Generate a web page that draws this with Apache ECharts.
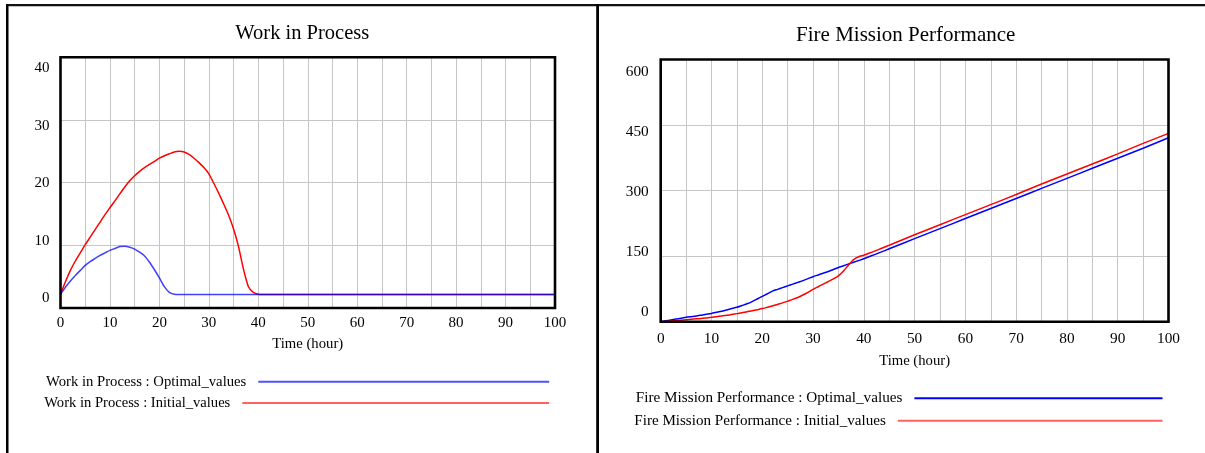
<!DOCTYPE html>
<html>
<head>
<meta charset="utf-8">
<script src="https://cdn.jsdelivr.net/npm/echarts@6/dist/echarts.min.js"></script>
<style>
html,body{margin:0;padding:0;background:#fff;}
#c{width:1205px;height:453px;}
</style>
</head>
<body>
<div id="c"></div>
<script>
// ---- data ----
const time = [0,1,2,3,4,5,6,7,8,9,10,11,12,13,14,15,16,17,18,19,20,21,22,23,24,25,26,27,28,29,30,31,32,33,34,35,36,37,38,39,40,41,42,43,44,45,50,55,60,65,70,75,80,85,90,95,100];

const wipOptimal = [2.2,3.3,4.3,5.2,6.0,6.8,7.4,7.9,8.4,8.8,
  9.2,9.5,9.8,9.85,9.7,9.4,8.9,8.3,7.3,6.1,
  4.8,3.4,2.5,2.2,2.15,2.15,2.15,2.15,2.15,2.15,
  2.15,2.15,2.15,2.15,2.15,2.15,2.15,2.15,2.15,2.15,
  2.15,2.15,2.15,2.15,2.15,2.15,
  2.15,2.15,2.15,2.15,2.15,2.15,2.15,2.15,2.15,2.15,2.15];

const wipInitial = [2.2,4.2,6.0,7.5,8.8,10.1,11.3,12.5,13.7,14.9,
  16.0,17.1,18.2,19.3,20.3,21.1,21.8,22.4,22.9,23.4,
  23.9,24.3,24.6,24.9,25.0,24.9,24.5,23.9,23.2,22.4,
  21.4,19.9,18.3,16.6,14.8,12.6,9.8,6.2,3.4,2.5,
  2.2,2.15,2.15,2.15,2.15,2.15,
  2.15,2.15,2.15,2.15,2.15,2.15,2.15,2.15,2.15,2.15,2.15];

const fmpOptimal = [0,2,4,6,8,10,11.5,13,15,17,
  19,21.5,24,27,30,33,37,41,46,52,
  58,64,70,74,78,82,86,90,94,98.5,
  103,107,111,115,119.5,124,128,132,136,140,
  144,148.5,153,157.5,162,167,
  190,213,236,259,282,305,328,351,374,397,421];

const fmpInitial = [0,0.5,1.5,2.5,3.5,4.5,5.5,6.5,7.5,8.5,
  10,11.5,13,14.5,16.5,18.5,20.5,23,25,27.5,
  30,33,36,39.5,43,47,51,55.5,61,67,
  74,80,86,92,98,105,116,130,142,148.5,
  152,156.5,161,165.5,170.5,175,
  199,222,245,268,291,315,338,361,384,408,431];

const xTicks = [0,10,20,30,40,50,60,70,80,90,100];
const wipTicks = [0,10,20,30,40];
const fmpTicks = [0,150,300,450,600];

const wipNames = ['Work in Process : Optimal_values', 'Work in Process : Initial_values'];
const fmpNames = ['Fire Mission Performance : Optimal_values', 'Fire Mission Performance : Initial_values'];
const titles = ['Work in Process', 'Fire Mission Performance'];
const xName = 'Time (hour)';

// ---- layout ----
const FONT = '"Liberation Serif", "Times New Roman", serif';
const W = 1205;
const G = [
  {left: 60.5, top: 57.3, width: 494.5, height: 250.7},
  {left: 660.7, top: 59.5, width: 507.8, height: 262.2}
];
const GRID_COLOR = '#c6c6c6';

function zip(xs, ys) { return xs.map((x, i) => [x, ys[i]]); }

function xAxisFor(i, nameGap, fs, margin) {
  return {
    type: 'value', gridIndex: i, min: 0, max: 100, interval: 5,
    axisLine: {show: false}, axisTick: {show: false},
    splitLine: {show: true, lineStyle: {color: GRID_COLOR, width: 1}},
    axisLabel: {customValues: xTicks, margin: margin, color: '#000', fontFamily: FONT, fontSize: fs},
    name: xName, nameLocation: 'middle', nameGap: nameGap,
    nameTextStyle: {color: '#000', fontFamily: FONT, fontSize: 14.7}
  };
}
function yMain(i, max, interval) {
  return {
    type: 'value', gridIndex: i, min: 0, max: max, interval: interval,
    axisLine: {show: false}, axisTick: {show: false}, axisLabel: {show: false},
    splitLine: {show: true, lineStyle: {color: GRID_COLOR, width: 1}}
  };
}
function yLabels(i, min, max, ticks, margin, fs) {
  return {
    type: 'value', gridIndex: i, min: min, max: max, position: 'left',
    axisLine: {show: false}, axisTick: {show: false}, splitLine: {show: false},
    axisLabel: {customValues: ticks, margin: margin, color: '#000', fontFamily: FONT, fontSize: fs}
  };
}
function legendFor(name, color, lineStart, lineEnd, cy, fs) {
  return {
    data: [{name: name, itemStyle: {color: color}}],
    right: W - lineEnd, top: cy - fs / 2,
    itemWidth: lineEnd - lineStart, itemHeight: 2,
    icon: 'rect', align: 'right', padding: 0, selectedMode: false,
    textStyle: {color: '#000', fontFamily: FONT, fontSize: fs, padding: [0, 7, 0, 0]}
  };
}
function lineSeries(name, xi, yi, data, color, opacity, z) {
  return {
    type: 'line', name: name, xAxisIndex: xi, yAxisIndex: yi,
    data: data, showSymbol: false, symbol: 'none', silent: true, z: z,
    smooth: 0.2,
    lineStyle: {color: color, width: 1.5, opacity: opacity},
    itemStyle: {color: color}
  };
}

const chart = echarts.init(document.getElementById('c'));
chart.setOption({
  animation: false,
  backgroundColor: '#fff',
  title: [
    {text: titles[0], left: 302.3, top: 23, textAlign: 'center', padding: 0,
     textStyle: {fontFamily: FONT, fontSize: 20.5, fontWeight: 'normal', color: '#000'}},
    {text: titles[1], left: 905.7, top: 24.5, textAlign: 'center', padding: 0,
     textStyle: {fontFamily: FONT, fontSize: 21, fontWeight: 'normal', color: '#000'}}
  ],
  grid: [
    Object.assign({show: false}, G[0]),
    Object.assign({show: false}, G[1])
  ],
  xAxis: [xAxisFor(0, 29, 15, 8), xAxisFor(1, 31.5, 15.3, 9.5)],
  yAxis: [
    yMain(0, 40, 10),
    yLabels(0, -1.74, 41.92, wipTicks, 11, 15),
    yMain(1, 600, 150),
    yLabels(1, -25.05, 631.8, fmpTicks, 12, 15.3)
  ],
  legend: [
    legendFor(wipNames[0], '#5050ff', 258.3, 549.2, 381.7, 14.7),
    legendFor(wipNames[1], '#ff6060', 242.3, 549.2, 402.7, 14.6),
    legendFor(fmpNames[0], '#0000ff', 914.4, 1162.5, 398.3, 15.2),
    legendFor(fmpNames[1], '#ff6060', 897.8, 1162.5, 420.7, 15.1)
  ],
  series: [
    lineSeries(wipNames[1], 0, 0, zip(time, wipInitial), '#ff0000', 1, 2),
    lineSeries(wipNames[0], 0, 0, zip(time, wipOptimal), '#0000ff', 0.75, 3),
    lineSeries(fmpNames[0], 1, 2, zip(time, fmpOptimal), '#0000ff', 1, 2),
    lineSeries(fmpNames[1], 1, 2, zip(time, fmpInitial), '#ff0000', 1, 3)
  ],
  graphic: [
    {type: 'rect', z: 200, silent: true, shape: {x: 6, y: 4, width: 1199, height: 2.2}, style: {fill: '#111'}},
    {type: 'rect', z: 200, silent: true, shape: {x: 6, y: 4, width: 2.5, height: 449}, style: {fill: '#000'}},
    {type: 'rect', z: 200, silent: true, shape: {x: 596.2, y: 4, width: 2.8, height: 449}, style: {fill: '#000'}},
    {type: 'rect', z: 200, silent: true, shape: {x: G[0].left, y: G[0].top, width: G[0].width, height: G[0].height},
     style: {fill: 'none', stroke: '#000', lineWidth: 2.6}},
    {type: 'rect', z: 200, silent: true, shape: {x: G[1].left, y: G[1].top, width: G[1].width, height: G[1].height},
     style: {fill: 'none', stroke: '#000', lineWidth: 2.6}}
  ]
});
</script>
</body>
</html>
